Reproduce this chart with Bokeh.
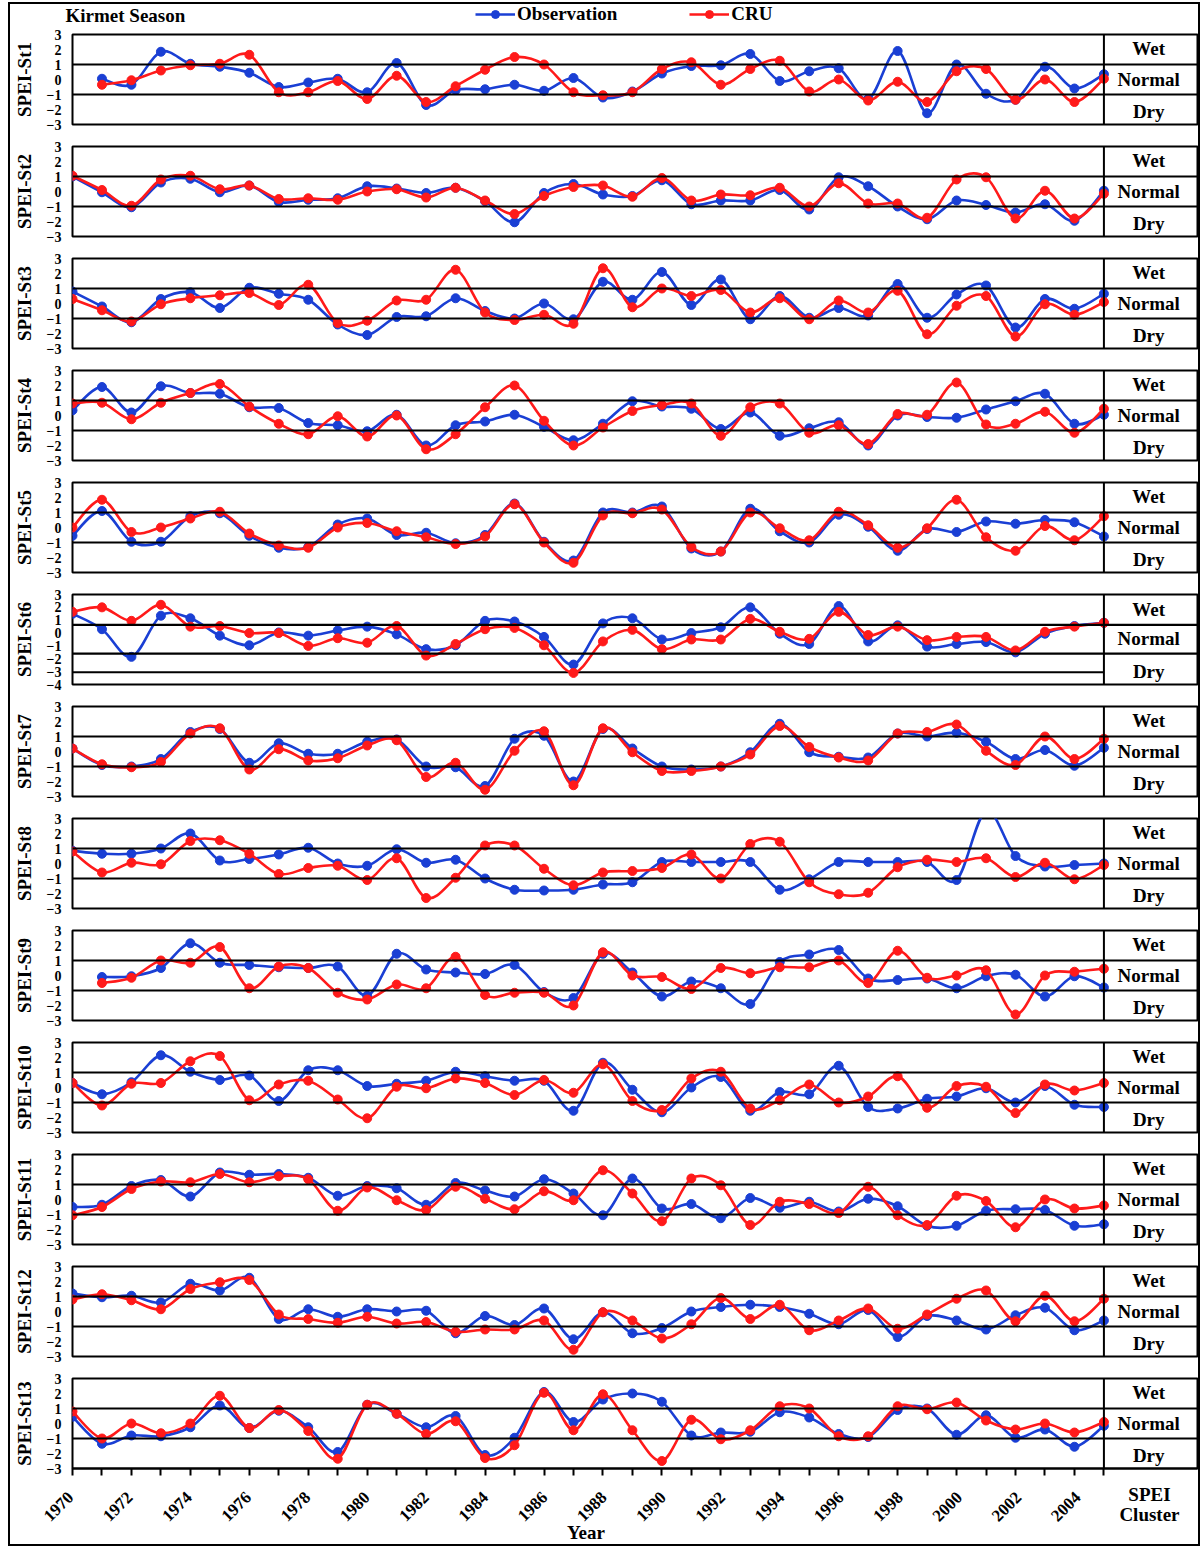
from bokeh.plotting import figure
from bokeh.layouts import column
from bokeh.models import Range1d, FixedTicker, Span, Legend, LegendItem, ColumnDataSource
from bokeh.embed import file_html
from bokeh.resources import INLINE
from bokeh.core.properties import value

YEARS = list(range(1970, 2006))
STATIONS = ["St1", "St2", "St3", "St4", "St5", "St6", "St7", "St8", "St9", "St10", "St11", "St12", "St13"]
CLUSTER_LABELS = ["Wet", "Normal", "Dry"]
SERIES_NAMES = ["Observation", "CRU"]
YEAR_LABELS = [str(y) for y in YEARS if y % 2 == 0 and y < 2005]

OBS_ST1 = [None, 0.05, -0.35, 1.85, 1.05, 0.85, 0.45, -0.5, -0.2, 0.05, -0.85, 1.1, -1.7, -0.7, -0.65, -0.35, -0.75, 0.1, -1.2, -0.8, 0.4, 0.9, 0.95, 1.7, -0.1, 0.55, 0.75, -1.3, 1.9, -2.25, 1.0, -0.95, -1.35, 0.85, -0.6, 0.35]
CRU_ST1 = [None, -0.35, -0.05, 0.6, 0.95, 1.05, 1.65, -0.85, -0.85, -0.1, -1.3, 0.25, -1.5, -0.45, 0.65, 1.5, 1.0, -0.85, -1.05, -0.85, 0.7, 1.15, -0.35, 0.7, 1.25, -0.8, 0.0, -1.4, -0.15, -1.5, 0.55, 0.7, -1.35, 0.0, -1.5, 0.05]
OBS_ST2 = [1.0, -0.05, -1.05, 0.6, 0.85, -0.05, 0.4, -0.7, -0.55, -0.45, 0.35, 0.2, -0.1, 0.25, -0.65, -2.05, -0.1, 0.5, -0.2, -0.3, 0.75, -0.85, -0.6, -0.6, 0.1, -1.2, 0.95, 0.35, -1.0, -1.85, -0.6, -0.9, -1.4, -0.85, -1.95, 0.05]
CRU_ST2 = [1.05, 0.1, -0.95, 0.8, 1.05, 0.15, 0.4, -0.5, -0.45, -0.55, 0.0, 0.15, -0.4, 0.25, -0.6, -1.5, -0.3, 0.3, 0.4, -0.35, 0.9, -0.6, -0.2, -0.25, 0.25, -1.0, 0.55, -0.8, -0.8, -1.75, 0.8, 0.95, -1.8, 0.05, -1.8, -0.15]
OBS_ST3 = [0.8, -0.2, -1.25, 0.3, 0.75, -0.3, 1.05, 0.65, 0.25, -1.4, -2.1, -0.9, -0.85, 0.35, -0.5, -1.0, 0.0, -1.05, 1.45, 0.25, 2.1, -0.1, 1.6, -1.05, 0.5, -0.95, -0.3, -0.8, 1.3, -0.95, 0.6, 1.2, -1.6, 0.3, -0.35, 0.65]
CRU_ST3 = [0.3, -0.45, -1.2, -0.05, 0.35, 0.55, 0.7, -0.1, 1.25, -1.3, -1.15, 0.2, 0.25, 2.25, -0.6, -1.1, -0.75, -1.35, 2.35, -0.25, 1.0, 0.5, 0.9, -0.6, 0.35, -1.05, 0.2, -0.6, 0.85, -2.05, -0.15, 0.5, -2.2, -0.05, -0.75, 0.1]
OBS_ST4 = [0.35, 1.9, 0.2, 1.95, 1.5, 1.45, 0.55, 0.5, -0.5, -0.65, -1.05, 0.05, -2.0, -0.65, -0.4, 0.05, -0.75, -1.65, -0.55, 0.95, 0.6, 0.45, -0.9, 0.2, -1.35, -0.85, -0.45, -2.0, 0.0, -0.1, -0.15, 0.4, 0.95, 1.45, -0.55, 0.05]
CRU_ST4 = [0.8, 0.85, -0.25, 0.85, 1.5, 2.1, 0.6, -0.55, -1.25, -0.05, -1.4, 0.0, -2.25, -1.25, 0.55, 2.0, -0.35, -2.0, -0.8, 0.3, 0.7, 0.8, -1.35, 0.55, 0.8, -1.15, -0.65, -1.9, 0.1, 0.05, 2.2, -0.6, -0.55, 0.25, -1.15, 0.45]
OBS_ST5 = [-0.55, 1.1, -0.95, -0.95, 0.75, 0.95, -0.55, -1.35, -1.3, 0.2, 0.6, -0.5, -0.35, -1.05, -0.5, 1.6, -0.95, -2.2, 1.0, 1.0, 1.4, -1.4, -1.6, 1.25, -0.25, -1.0, 0.85, 0.05, -1.55, -0.1, -0.3, 0.4, 0.25, 0.5, 0.35, -0.6]
CRU_ST5 = [0.0, 1.85, -0.3, 0.0, 0.6, 1.05, -0.4, -1.2, -1.35, 0.0, 0.3, -0.25, -0.65, -1.1, -0.6, 1.55, -1.0, -2.35, 0.8, 0.95, 1.2, -1.3, -1.6, 1.0, -0.05, -0.85, 1.05, 0.15, -1.35, -0.05, 1.85, -0.65, -1.55, 0.1, -0.85, 0.75]
OBS_ST6 = [1.5, 0.3, -1.85, 1.35, 1.15, -0.2, -0.95, 0.05, -0.2, 0.2, 0.5, -0.1, -1.25, -0.95, 0.95, 0.9, -0.3, -2.45, 0.75, 1.15, -0.5, 0.0, 0.45, 2.0, -0.05, -0.85, 2.1, -0.65, 0.6, -1.05, -0.85, -0.7, -1.5, -0.05, 0.55, 0.8]
CRU_ST6 = [1.65, 2.0, 0.95, 2.2, 0.5, 0.55, 0.0, 0.0, -1.0, -0.4, -0.75, 0.55, -1.75, -0.85, 0.3, 0.4, -0.95, -3.1, -0.65, 0.25, -1.25, -0.5, -0.5, 1.1, 0.1, -0.45, 1.65, -0.15, 0.5, -0.55, -0.3, -0.3, -1.35, 0.1, 0.5, 0.8]
OBS_ST7 = [0.2, -0.9, -1.0, -0.5, 1.3, 1.5, -0.75, 0.55, -0.15, -0.15, 0.65, 0.8, -1.0, -1.05, -2.3, 0.85, 1.05, -2.0, 1.5, 0.2, -1.0, -1.2, -1.0, -0.05, 1.85, -0.05, -0.35, -0.4, 1.2, 1.0, 1.25, 0.65, -0.5, 0.1, -0.95, 0.25]
CRU_ST7 = [0.2, -0.85, -1.05, -0.7, 1.2, 1.55, -1.2, 0.15, -0.6, -0.45, 0.4, 0.75, -1.7, -0.75, -2.55, 0.05, 1.35, -2.25, 1.55, -0.05, -1.3, -1.3, -1.0, -0.2, 1.7, 0.3, -0.4, -0.6, 1.2, 1.3, 1.8, 0.05, -0.9, 1.0, -0.5, 0.85]
OBS_ST8 = [0.85, 0.65, 0.65, 1.0, 2.0, 0.2, 0.3, 0.6, 1.05, 0.0, -0.15, 0.95, 0.05, 0.25, -1.0, -1.75, -1.8, -1.75, -1.4, -1.25, 0.1, 0.1, 0.1, 0.1, -1.75, -1.05, 0.1, 0.1, 0.1, 0.1, -1.1, 3.5, 0.5, -0.2, -0.1, 0.0]
CRU_ST8 = [0.8, -0.6, 0.05, -0.05, 1.5, 1.55, 0.65, -0.7, -0.3, -0.15, -1.1, 0.35, -2.3, -0.95, 1.2, 1.2, -0.35, -1.45, -0.6, -0.5, -0.3, 0.6, -1.0, 1.3, 1.45, -1.25, -2.05, -1.95, -0.25, 0.25, 0.1, 0.35, -0.9, 0.05, -1.05, -0.1]
OBS_ST9 = [None, -0.1, -0.05, 0.5, 2.15, 0.85, 0.7, 0.55, 0.5, 0.6, -1.35, 1.45, 0.4, 0.2, 0.1, 0.7, -1.1, -1.5, 1.45, 0.2, -1.4, -0.4, -0.85, -1.9, 0.9, 1.4, 1.7, -0.2, -0.3, -0.2, -0.85, -0.05, 0.05, -1.4, -0.05, -0.8]
CRU_ST9 = [None, -0.5, -0.15, 1.0, 0.85, 1.9, -0.85, 0.6, 0.5, -1.15, -1.6, -0.6, -0.85, 1.25, -1.3, -1.15, -1.15, -2.0, 1.55, 0.0, -0.1, -0.9, 0.5, 0.15, 0.55, 0.55, 1.0, -0.5, 1.65, -0.15, 0.0, 0.35, -2.6, 0.0, 0.25, 0.45]
OBS_ST10 = [0.3, -0.45, 0.35, 2.15, 1.05, 0.5, 0.8, -0.9, 1.15, 1.15, 0.1, 0.25, 0.45, 1.05, 0.75, 0.45, 0.45, -1.55, 1.65, -0.15, -1.65, 0.0, 0.7, -1.55, -0.3, -0.45, 1.45, -1.3, -1.4, -0.75, -0.6, -0.05, -1.0, 0.1, -1.15, -1.3]
CRU_ST10 = [0.3, -1.2, 0.25, 0.3, 1.75, 2.1, -0.85, 0.2, 0.45, -0.8, -2.05, 0.05, -0.05, 0.6, 0.3, -0.5, 0.5, -0.35, 1.55, -0.9, -1.5, 0.6, 1.05, -1.4, -0.85, 0.2, -1.0, -0.6, 0.75, -1.35, 0.1, 0.05, -1.7, 0.2, -0.2, 0.3]
OBS_ST11 = [-0.5, -0.35, 0.9, 1.3, 0.2, 1.8, 1.65, 1.7, 1.45, 0.25, 0.9, 0.75, -0.35, 1.1, 0.6, 0.2, 1.35, 0.4, -1.05, 1.4, -0.6, -0.3, -1.25, 0.1, -0.55, -0.15, -0.8, 0.05, -0.45, -1.75, -1.75, -0.75, -0.65, -0.7, -1.75, -1.65]
CRU_ST11 = [-1.05, -0.5, 0.7, 1.2, 1.15, 1.7, 1.15, 1.55, 1.35, -0.75, 0.8, -0.05, -0.7, 0.85, 0.05, -0.65, 0.55, -0.05, 1.95, 0.4, -1.45, 1.4, 0.95, -1.7, -0.15, -0.3, -0.9, 0.85, -1.05, -1.7, 0.25, -0.1, -1.85, 0.0, -0.6, -0.4]
OBS_ST12 = [1.2, 0.95, 1.05, 0.6, 1.85, 1.4, 2.25, -0.5, 0.15, -0.35, 0.15, 0.0, 0.05, -1.45, -0.3, -0.9, 0.2, -1.85, -0.05, -1.45, -1.1, 0.0, 0.3, 0.45, 0.3, -0.15, -0.85, 0.1, -1.7, -0.3, -0.6, -1.2, -0.25, 0.25, -1.25, -0.6]
CRU_ST12 = [0.8, 1.15, 0.75, 0.15, 1.5, 1.95, 2.1, -0.2, -0.5, -0.75, -0.35, -0.8, -0.7, -1.35, -1.2, -1.2, -0.6, -2.55, -0.05, -0.6, -1.8, -0.85, 0.9, -0.5, 0.45, -1.25, -0.6, 0.2, -1.15, -0.2, 0.85, 1.4, -0.65, 1.05, -0.65, 0.85]
OBS_ST13 = [0.45, -1.35, -0.8, -0.85, -0.25, 1.2, -0.3, 0.85, -0.25, -1.9, 1.25, 0.65, -0.25, 0.5, -2.1, -0.95, 2.1, 0.1, 1.6, 2.0, 1.45, -0.8, -0.6, -0.55, 0.75, 0.4, -0.7, -0.9, 0.9, 1.0, -0.75, 0.55, -0.95, -0.4, -1.55, -0.15]
CRU_ST13 = [0.8, -1.0, 0.0, -0.65, 0.0, 1.85, -0.3, 0.9, -0.5, -2.35, 1.25, 0.65, -0.7, 0.15, -2.3, -1.45, 2.05, -0.45, 1.95, -0.45, -2.5, 0.25, -1.05, -0.45, 1.15, 1.0, -0.85, -0.85, 1.15, 0.95, 1.4, 0.2, -0.4, 0.0, -0.6, 0.1]

OBS = [OBS_ST1, OBS_ST2, OBS_ST3, OBS_ST4, OBS_ST5, OBS_ST6, OBS_ST7, OBS_ST8, OBS_ST9, OBS_ST10, OBS_ST11, OBS_ST12, OBS_ST13]
CRU = [CRU_ST1, CRU_ST2, CRU_ST3, CRU_ST4, CRU_ST5, CRU_ST6, CRU_ST7, CRU_ST8, CRU_ST9, CRU_ST10, CRU_ST11, CRU_ST12, CRU_ST13]
for s in OBS + CRU:
    assert len(s) == len(YEARS), len(s)

# St6 uses its own scale and class limits
Y_LIMITS = {"St6": (-4, 3)}
THRESHOLDS = {"St6": (0.64, -1.6)}
EXTRA_LINE = {"St6": -3.05}
CLUSTER_Y = {"St6": (1.85, -0.46, -3.0)}

BLUE = "#1a3fd4"
RED = "#ff1a1a"
FONT = "Liberation Serif"
W = 1188
LEFT = 57
RIGHT = 1
PX = 29.6                      # pixels per year
X_END = 1970 + (W - LEFT - RIGHT) / PX
X_START_FULL = 1970 - LEFT / PX
XC = 2005 + 45 / PX            # centre of the right-hand class column
BORDER = 8                     # space above and below each panel box


def bezier_source(xs, ys):
    pts = [(x, y) for x, y in zip(xs, ys) if y is not None]
    n = len(pts)
    d = {k: [] for k in ("x0", "y0", "x1", "y1", "cx0", "cy0", "cx1", "cy1")}
    for i in range(n - 1):
        p0 = pts[i - 1] if i > 0 else pts[i]
        p1 = pts[i]
        p2 = pts[i + 1]
        p3 = pts[i + 2] if i + 2 < n else pts[i + 1]
        d["x0"].append(p1[0]); d["y0"].append(p1[1])
        d["x1"].append(p2[0]); d["y1"].append(p2[1])
        d["cx0"].append(p1[0] + (p2[0] - p0[0]) / 6.0)
        d["cy0"].append(p1[1] + (p2[1] - p0[1]) / 6.0)
        d["cx1"].append(p2[0] - (p3[0] - p1[0]) / 6.0)
        d["cy1"].append(p2[1] - (p3[1] - p1[1]) / 6.0)
    return ColumnDataSource(d)


def points_source(xs, ys):
    pts = [(x, y) for x, y in zip(xs, ys) if y is not None]
    return ColumnDataSource(dict(x=[p[0] for p in pts], y=[p[1] for p in pts]))


def blank_figure(height, x_range, y_range):
    f = figure(width=W, height=height, x_range=x_range, y_range=y_range,
               output_backend="svg", toolbar_location=None, x_axis_location=None, y_axis_location=None,
               min_border=0)
    f.frame_align = False
    f.grid.visible = False
    f.outline_line_color = None
    return f


def make_header():
    # y range lies far above the SPEI values, so the series used for the legend are not shown here
    h = blank_figure(22, Range1d(X_START_FULL, X_END), Range1d(10, 11))
    h.text(x=[1970 - 2 / PX], y=[10.5], text=["Kirmet Season"], text_font=value(FONT), text_font_style="bold",
           text_font_size="19px", text_align="left", text_baseline="middle", text_color="black")
    items = []
    for name, series, color in zip(SERIES_NAMES, (OBS_ST1, CRU_ST1), (BLUE, RED)):
        src = points_source(YEARS, series)
        ln = h.line(x="x", y="y", source=src, line_color=color, line_width=2.6)
        pt = h.scatter(x="x", y="y", source=src, size=9, fill_color=color, line_color=color)
        items.append(LegendItem(label=name, renderers=[ln, pt]))
    leg = Legend(items=items, orientation="horizontal", location=(465, 1),
                 label_text_font=FONT, label_text_font_style="bold", label_text_font_size="19px",
                 label_text_color="black",
                 glyph_width=40, glyph_height=20, label_height=20, spacing=72, label_standoff=2,
                 border_line_color=None, background_fill_alpha=0, margin=0, padding=0)
    h.add_layout(leg, "center")
    return h


def make_panel(idx, last=False):
    name = STATIONS[idx]
    ylo, yhi = Y_LIMITS.get(name, (-3, 3))
    p = figure(width=W, height=90 + 2 * BORDER, x_range=Range1d(1970, X_END), y_range=Range1d(ylo, yhi),
               output_backend="svg", toolbar_location=None,
               x_axis_location="below" if last else None,
               min_border_left=LEFT, min_border_right=RIGHT, min_border_top=BORDER, min_border_bottom=BORDER)
    p.grid.visible = False
    p.outline_line_color = "black"
    p.outline_line_width = 2

    ax = p.yaxis[0]
    ax.ticker = FixedTicker(ticks=list(range(ylo, yhi + 1)))
    ax.axis_line_color = None
    ax.major_tick_line_color = None
    ax.minor_tick_line_color = None
    ax.major_label_text_font = FONT
    ax.major_label_text_font_style = "bold"
    ax.major_label_text_font_size = "14px"
    ax.major_label_text_color = "black"
    ax.major_label_standoff = 5
    ax.axis_label = "SPEI-" + name
    ax.axis_label_text_font = FONT
    ax.axis_label_text_font_style = "bold"
    ax.axis_label_text_font_size = "19px"
    ax.axis_label_text_color = "black"
    ax.axis_label_standoff = 9

    t_hi, t_lo = THRESHOLDS.get(name, (1, -1))
    for loc in (t_hi, t_lo):
        p.add_layout(Span(location=loc, dimension="width", line_color="black", line_width=2.2))
    p.add_layout(Span(location=2005, dimension="height", line_color="black", line_width=2))
    if name in EXTRA_LINE:
        yl = EXTRA_LINE[name]
        p.segment(x0=[1970], y0=[yl], x1=[2005], y1=[yl], line_color="black", line_width=2)

    cy = CLUSTER_Y.get(name, (2.05, 0.0, -2.1))
    p.text(x=[XC] * 3, y=list(cy), text=CLUSTER_LABELS, text_font=value(FONT), text_font_style="bold",
           text_font_size="19px", text_align="center", text_baseline="middle", text_color="black")

    for series, color in ((OBS[idx], BLUE), (CRU[idx], RED)):
        p.bezier(x0="x0", y0="y0", x1="x1", y1="y1", cx0="cx0", cy0="cy0", cx1="cx1", cy1="cy1",
                 source=bezier_source(YEARS, series), line_color=color, line_width=2.6)
        p.scatter(x="x", y="y", source=points_source(YEARS, series), size=9,
                  fill_color=color, line_color=color)

    if last:
        xa = p.xaxis[0]
        # one tick per year; the year labels are written in the footer beneath
        xa.ticker = FixedTicker(ticks=[], minor_ticks=YEARS)
        xa.minor_tick_out = 7
        xa.minor_tick_in = 0
        xa.minor_tick_line_width = 2
        xa.minor_tick_line_color = "black"
        xa.major_tick_line_color = None
        xa.axis_line_width = 2
        xa.major_label_standoff = 0
    return p


def make_separator():
    s = blank_figure(6, Range1d(0, 1), Range1d(0, 1))
    s.add_layout(Span(location=0.5, dimension="width", line_color="black", line_width=5, line_dash="12 9"))
    return s


def make_footer():
    f = blank_figure(68, Range1d(X_START_FULL, X_END), Range1d(-68, 0))
    even_years = [int(t) for t in YEAR_LABELS]
    f.text(x=even_years, y=[-18] * len(even_years), text=YEAR_LABELS, x_offset=3, angle=0.785,
           text_font=value(FONT), text_font_style="bold", text_font_size="17px",
           text_align="right", text_baseline="middle", text_color="black")
    f.text(x=[1987.5, XC, XC], y=[-56, -18, -38], text=["Year", "SPEI", "Cluster"],
           text_font=value(FONT), text_font_style="bold", text_font_size="19px",
           text_align="center", text_baseline="middle", text_color="black")
    return f


children = [make_header()]
n = len(STATIONS)
for i in range(n):
    if i > 0:
        children.append(make_separator())
    children.append(make_panel(i, last=(i == n - 1)))
children.append(make_footer())

layout = column(children, spacing=0,
                styles={"border": "2px solid black", "margin-left": "8px", "margin-top": "2px"})
open("out.html", "w").write(file_html(layout, INLINE))
